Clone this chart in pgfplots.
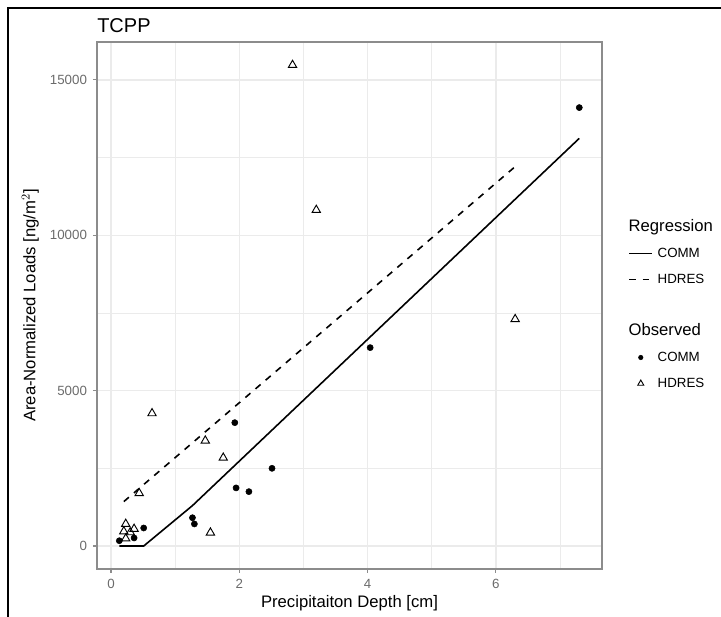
\documentclass[border=0pt]{standalone}
\usepackage{fontspec}
\setmainfont{Liberation Sans}
\usepackage{pgfplots}
\pgfplotsset{compat=1.18}
\definecolor{gridc}{HTML}{EBEBEB}
\definecolor{borderc}{HTML}{8C8C8C}
\definecolor{tickc}{HTML}{6B6B6B}
\pgfplotsset{
  smalldot/.style={legend image code/.code={\draw[##1,mark size=1.7pt] plot coordinates {(0.3cm,0cm)};}},
  smalltri/.style={legend image code/.code={\draw[##1,mark size=2.6pt] plot coordinates {(0.3cm,0cm)};}},
}
\begin{document}
\begin{tikzpicture}
\useasboundingbox (-72.75pt,-36pt) rectangle (468pt,426.75pt);
\draw[line width=1.5pt,black] (-66.4pt,-36pt) -- (-66.4pt,420.4pt) -- (468pt,420.4pt);
\begin{axis}[
  at={(0pt,0pt)}, anchor=south west,
  scale only axis,
  width=378.75pt, height=395.25pt,
  xmin=-0.218, xmax=7.654,
  ymin=-740, ymax=16221,
  xtick={0,2,4,6}, minor xtick={1,3,5,7},
  ytick={0,5000,10000,15000}, minor ytick={2500,7500,12500},
  xtick pos=lower, ytick pos=left,
  scaled y ticks=false,
  /pgf/number format/assume math mode=true,
  yticklabel style={/pgf/number format/fixed,/pgf/number format/1000 sep={}},
  grid=both,
  major grid style={gridc,line width=1.1pt},
  minor grid style={gridc,line width=0.55pt},
  axis line style={borderc,line width=1.1pt},
  tick style={borderc,line width=0.8pt},
  tick align=outside,
  major tick length=3pt,
  minor tick length=0pt,
  ticklabel style={font=\fontsize{10}{12}\selectfont,text=tickc},
  xticklabel style={yshift=-1pt},
  yticklabel style={xshift=-1pt},
  xlabel={Precipitaiton Depth [cm]},
  ylabel={Area-Normalized Loads [ng/m$^2$]},
  label style={font=\fontsize{12.5}{14}\selectfont},
  xlabel style={at={(axis description cs:0.5,0)},anchor=center,yshift=-25.5pt},
  ylabel style={at={(axis description cs:0,0.5)},anchor=center,yshift=50pt},
  title={TCPP},
  title style={at={(axis description cs:0,1)},anchor=base west,yshift=1pt,inner sep=0pt,font=\fontsize{15}{18}\selectfont},
  legend cell align=left,
  legend style={draw=none,fill=none,at={(axis description cs:1,0.5)},anchor=west,xshift=16.75pt,
    font=\fontsize{10}{12}\selectfont,
    nodes={inner sep=0pt,text height=7.5pt,text depth=2pt},
    row sep=10pt,
    /tikz/every odd column/.append style={column sep=3.5pt}},
]
\addlegendimage{empty legend}
\addlegendentry{\hspace*{-21.75pt}{\fontsize{12.5}{14}\selectfont Regression}}
\addplot[black,line width=1.2pt,no marks] coordinates {
(0.13,0) (0.51,0) (1.27,1300) (7.30,13120)};
\addlegendentry{COMM}
\addplot[black,line width=1.2pt,no marks,dash pattern=on 5pt off 5pt] coordinates {
(0.20,1430) (6.30,12210)};
\addlegendentry{HDRES}
\addlegendimage{empty legend}
\addlegendentry{}
\addlegendimage{empty legend}
\addlegendentry{\hspace*{-21.75pt}{\fontsize{12.5}{14}\selectfont Observed}}
\addplot[only marks,mark=*,mark size=2.3pt,black,smalldot] coordinates {
(0.13,170) (0.36,260) (0.51,580) (1.27,910) (1.30,710) (1.93,3970)
(1.95,1870) (2.15,1750) (2.51,2500) (4.04,6385) (7.30,14110)};
\addlegendentry{COMM}
\addplot[only marks,mark=triangle,mark size=3.6pt,black,mark options={line width=0.7pt},smalltri] coordinates {
(0.23,710) (0.20,470) (0.36,550) (0.30,440) (0.23,240) (0.44,1700) (0.64,4270)
(1.47,3390) (1.55,430) (1.75,2840) (2.83,15480) (3.20,10815) (6.30,7300)};
\addlegendentry{HDRES}
\end{axis}
\end{tikzpicture}
\end{document}
